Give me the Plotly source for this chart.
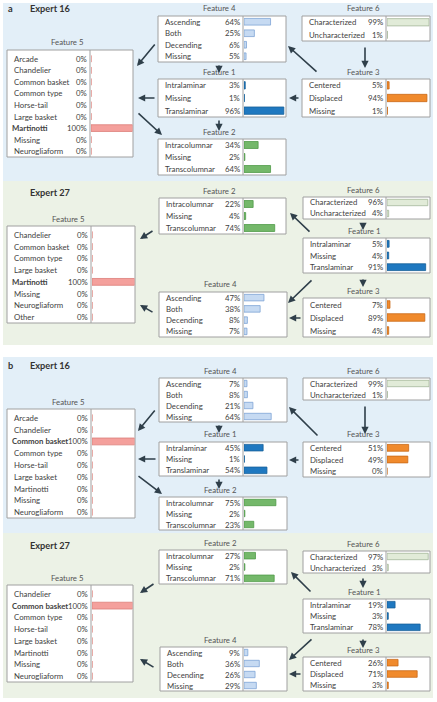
import plotly.graph_objects as go

W, H = 437, 702

# ---------------- data ----------------
F1_CATS = ["Intralaminar", "Missing", "Translaminar"]
F2_CATS = ["Intracolumnar", "Missing", "Transcolumnar"]
F3_CATS = ["Centered", "Displaced", "Missing"]
F4_CATS = ["Ascending", "Both", "Decending", "Missing"]
F6_CATS = ["Characterized", "Uncharacterized"]

F5_CATS_A16 = ["Arcade", "Chandelier", "Common basket", "Common type", "Horse-tail",
               "Large basket", "Martinotti", "Missing", "Neurogliaform"]
F5_CATS_A27 = ["Chandelier", "Common basket", "Common type", "Large basket",
               "Martinotti", "Missing", "Neurogliaform", "Other"]
F5_CATS_B16 = ["Arcade", "Chandelier", "Common basket", "Common type", "Horse-tail",
               "Large basket", "Martinotti", "Missing", "Neurogliaform"]
F5_CATS_B27 = ["Chandelier", "Common basket", "Common type", "Horse-tail",
               "Large basket", "Martinotti", "Missing", "Neurogliaform"]

# panel a, expert 16
A16_F1 = [3, 1, 96]
A16_F2 = [34, 2, 64]
A16_F3 = [5, 94, 1]
A16_F4 = [64, 25, 6, 5]
A16_F5 = [0, 0, 0, 0, 0, 0, 100, 0, 0]
A16_F6 = [99, 1]
# panel a, expert 27
A27_F1 = [5, 4, 91]
A27_F2 = [22, 4, 74]
A27_F3 = [7, 89, 4]
A27_F4 = [47, 38, 8, 7]
A27_F5 = [0, 0, 0, 0, 100, 0, 0, 0]
A27_F6 = [96, 4]
# panel b, expert 16
B16_F1 = [45, 1, 54]
B16_F2 = [75, 2, 23]
B16_F3 = [51, 49, 0]
B16_F4 = [7, 8, 21, 64]
B16_F5 = [0, 0, 100, 0, 0, 0, 0, 0, 0]
B16_F6 = [99, 1]
# panel b, expert 27
B27_F1 = [19, 3, 78]
B27_F2 = [27, 2, 71]
B27_F3 = [26, 71, 3]
B27_F4 = [9, 36, 26, 29]
B27_F5 = [0, 100, 0, 0, 0, 0, 0, 0]
B27_F6 = [97, 3]

# ---------------- styles ----------------
STYLE = {
    "Feature 1": ("#1f78c0", "#176199"),
    "Feature 2": ("#74b86a", "#4f9a48"),
    "Feature 3": ("#f08a2c", "#c96a18"),
    "Feature 4": ("#c6daf2", "#7fa5d6"),
    "Feature 5": ("#f4a09c", "#dc7e79"),
    "Feature 6": ("#e1ebd8", "#a3b699"),
}
FONT = "Lato, sans-serif"
FS = 7.8
TXT = "#424242"
ARROW = "#2f3f4a"

def px(x):
    return x / W

def py(y):
    return 1 - y / H

# box geometry: (feature, cats, vals, left, top, right, bottom, divider)
BOXES = [
    # a / expert 16
    ("Feature 4", F4_CATS, A16_F4, 158, 16, 286, 62, 243),
    ("Feature 1", F1_CATS, A16_F1, 158, 79, 286, 117, 243),
    ("Feature 2", F2_CATS, A16_F2, 158, 139, 286, 175, 243),
    ("Feature 6", F6_CATS, A16_F6, 302, 16, 430, 41, 386),
    ("Feature 3", F3_CATS, A16_F3, 302, 79, 430, 117, 386),
    ("Feature 5", F5_CATS_A16, A16_F5, 7, 50, 133, 157, 90),
    # a / expert 27
    ("Feature 2", F2_CATS, A27_F2, 159, 198, 286, 234, 243),
    ("Feature 4", F4_CATS, A27_F4, 159, 292, 287, 337, 243),
    ("Feature 6", F6_CATS, A27_F6, 303, 197, 430, 219, 386),
    ("Feature 1", F1_CATS, A27_F1, 303, 238, 430, 273, 386),
    ("Feature 3", F3_CATS, A27_F3, 303, 298, 430, 337, 386),
    ("Feature 5", F5_CATS_A27, A27_F5, 7, 226, 135, 323, 91),
    # b / expert 16
    ("Feature 4", F4_CATS, B16_F4, 159, 378, 287, 422, 243),
    ("Feature 1", F1_CATS, B16_F1, 159, 442, 287, 476, 243),
    ("Feature 2", F2_CATS, B16_F2, 159, 497, 287, 530, 243),
    ("Feature 6", F6_CATS, B16_F6, 303, 378, 430, 400, 386),
    ("Feature 3", F3_CATS, B16_F3, 303, 442, 430, 477, 386),
    ("Feature 5", F5_CATS_B16, B16_F5, 7, 409, 135, 518, 91),
    # b / expert 27
    ("Feature 2", F2_CATS, B27_F2, 159, 550, 287, 584, 243),
    ("Feature 4", F4_CATS, B27_F4, 160, 647, 287, 691, 243),
    ("Feature 6", F6_CATS, B27_F6, 303, 551, 430, 573, 386),
    ("Feature 1", F1_CATS, B27_F1, 303, 599, 430, 633, 386),
    ("Feature 3", F3_CATS, B27_F3, 303, 657, 430, 691, 386),
    ("Feature 5", F5_CATS_B27, B27_F5, 7, 585, 133, 682, 91),
]

# arrows: (tail_x, tail_y, head_x, head_y) in pixels
ARROWS = [
    # a16
    (365, 46, 365, 68), (318, 73, 288, 46), (300, 98, 289, 98),
    (219, 64, 219, 73), (219, 119, 219, 131),
    (156, 43, 137, 66), (156, 98, 138, 98), (137, 112, 162, 135),
    # a27
    (363, 222, 363, 230), (363, 278, 363, 287), (311, 233, 290, 213),
    (313, 279, 288, 303), (302, 318, 289, 318),
    (154, 230, 140, 239), (154, 313, 140, 305),
    # b16
    (365, 405, 365, 434), (319, 437, 289, 407), (300, 460, 289, 460),
    (219, 424, 219, 433), (219, 478, 219, 489),
    (156, 409, 138, 431), (157, 459, 138, 459), (137, 475, 162, 494),
    # b27
    (363, 577, 363, 588), (363, 638, 363, 648), (312, 593, 291, 572),
    (313, 638, 289, 660), (302, 674, 289, 674),
    (155, 583, 140, 593), (155, 668, 140, 659),
]

fig = go.Figure()
shapes = []
annotations = []

# panel backgrounds
BG = [
    (3, 3, 433, 181, "#e3eff8"),
    (3, 181, 433, 345, "#ecf2e6"),
    (3, 357, 433, 533, "#e3eff8"),
    (3, 533, 433, 698, "#ecf2e6"),
]
for x0, y0, x1, y1, c in BG:
    shapes.append(dict(type="rect", xref="paper", yref="paper", x0=px(x0), x1=px(x1),
                       y0=py(y1), y1=py(y0), fillcolor=c, line=dict(width=0), layer="below"))

# panel labels
for txt, x, y in [("<b>a</b>", 6, 8), ("<b>Expert 16</b>", 28, 8), ("<b>Expert 27</b>", 28, 192),
                  ("<b>b</b>", 6, 365), ("<b>Expert 16</b>", 28, 365), ("<b>Expert 27</b>", 28, 545)]:
    annotations.append(dict(text=txt, x=px(x), y=py(y), xref="paper", yref="paper",
                            xanchor="left", yanchor="middle", showarrow=False,
                            font=dict(family=FONT, size=9.2, color="#333333")))

layout_axes = {}
for k, (feat, cats, vals, l, t, r, b, d) in enumerate(BOXES):
    n = len(cats)
    idx = k + 1
    xa = "x" if idx == 1 else f"x{idx}"
    ya = "y" if idx == 1 else f"y{idx}"
    fill, line = STYLE[feat]
    top_pad = 3 if feat == "Feature 5" else 0
    # box
    shapes.append(dict(type="rect", xref="paper", yref="paper", x0=px(l), x1=px(r),
                       y0=py(b), y1=py(t), fillcolor="white",
                       line=dict(color="#a0a0a0", width=1), layer="below"))
    shapes.append(dict(type="line", xref="paper", yref="paper", x0=px(d), x1=px(d),
                       y0=py(b), y1=py(t), line=dict(color="#a0a0a0", width=1)))
    # title
    annotations.append(dict(text=feat, x=px((l + r) / 2 - 3), y=py(t - 0.5), xref="paper",
                            yref="paper", xanchor="center", yanchor="bottom", showarrow=False,
                            font=dict(family=FONT, size=FS, color="#555555")))
    # bars
    rows = list(range(n))
    fig.add_trace(go.Bar(x=vals, y=rows, orientation="h", xaxis=xa, yaxis=ya,
                         marker=dict(color=fill, line=dict(color=line, width=0.8)),
                         width=0.58, showlegend=False, hoverinfo="skip"))
    layout_axes["xaxis" if idx == 1 else f"xaxis{idx}"] = dict(
        domain=[px(d + 1), px(r - 0.5)], range=[0, 100], visible=False, fixedrange=True,
        anchor=ya)
    layout_axes["yaxis" if idx == 1 else f"yaxis{idx}"] = dict(
        domain=[py(b), py(t + top_pad)], range=[n - 0.5, -0.5], visible=False,
        fixedrange=True, anchor=xa)
    yref = ya
    for i, (c, v) in enumerate(zip(cats, vals)):
        bold = feat == "Feature 5" and v == 100
        lab = f"<b>{c}</b>" if bold else c
        annotations.append(dict(text=lab, x=px(l + (3 if bold else 5)), y=i, xref="paper",
                                yref=yref, xanchor="left", yanchor="middle", showarrow=False,
                                font=dict(family=FONT, size=FS, color=TXT)))
        annotations.append(dict(text=f"{v}%", x=px(d - 1.5), y=i, xref="paper", yref=yref,
                                xanchor="right", yanchor="middle", showarrow=False,
                                font=dict(family=FONT, size=FS, color=TXT)))

for tx, ty, hx, hy in ARROWS:
    annotations.append(dict(x=px(hx), y=py(hy), xref="paper", yref="paper",
                            ax=tx - hx, ay=ty - hy, axref="pixel", ayref="pixel",
                            showarrow=True, arrowhead=2, arrowsize=0.9, arrowwidth=1.6,
                            arrowcolor=ARROW, text=""))

fig.update_layout(width=W, height=H, margin=dict(l=0, r=0, t=0, b=0),
                  paper_bgcolor="white", plot_bgcolor="rgba(0,0,0,0)",
                  shapes=shapes, annotations=annotations, bargap=0.4,
                  **layout_axes)

fig.write_html("out.html", config={"displayModeBar": False},
               post_script="document.body.style.margin='0px';")
